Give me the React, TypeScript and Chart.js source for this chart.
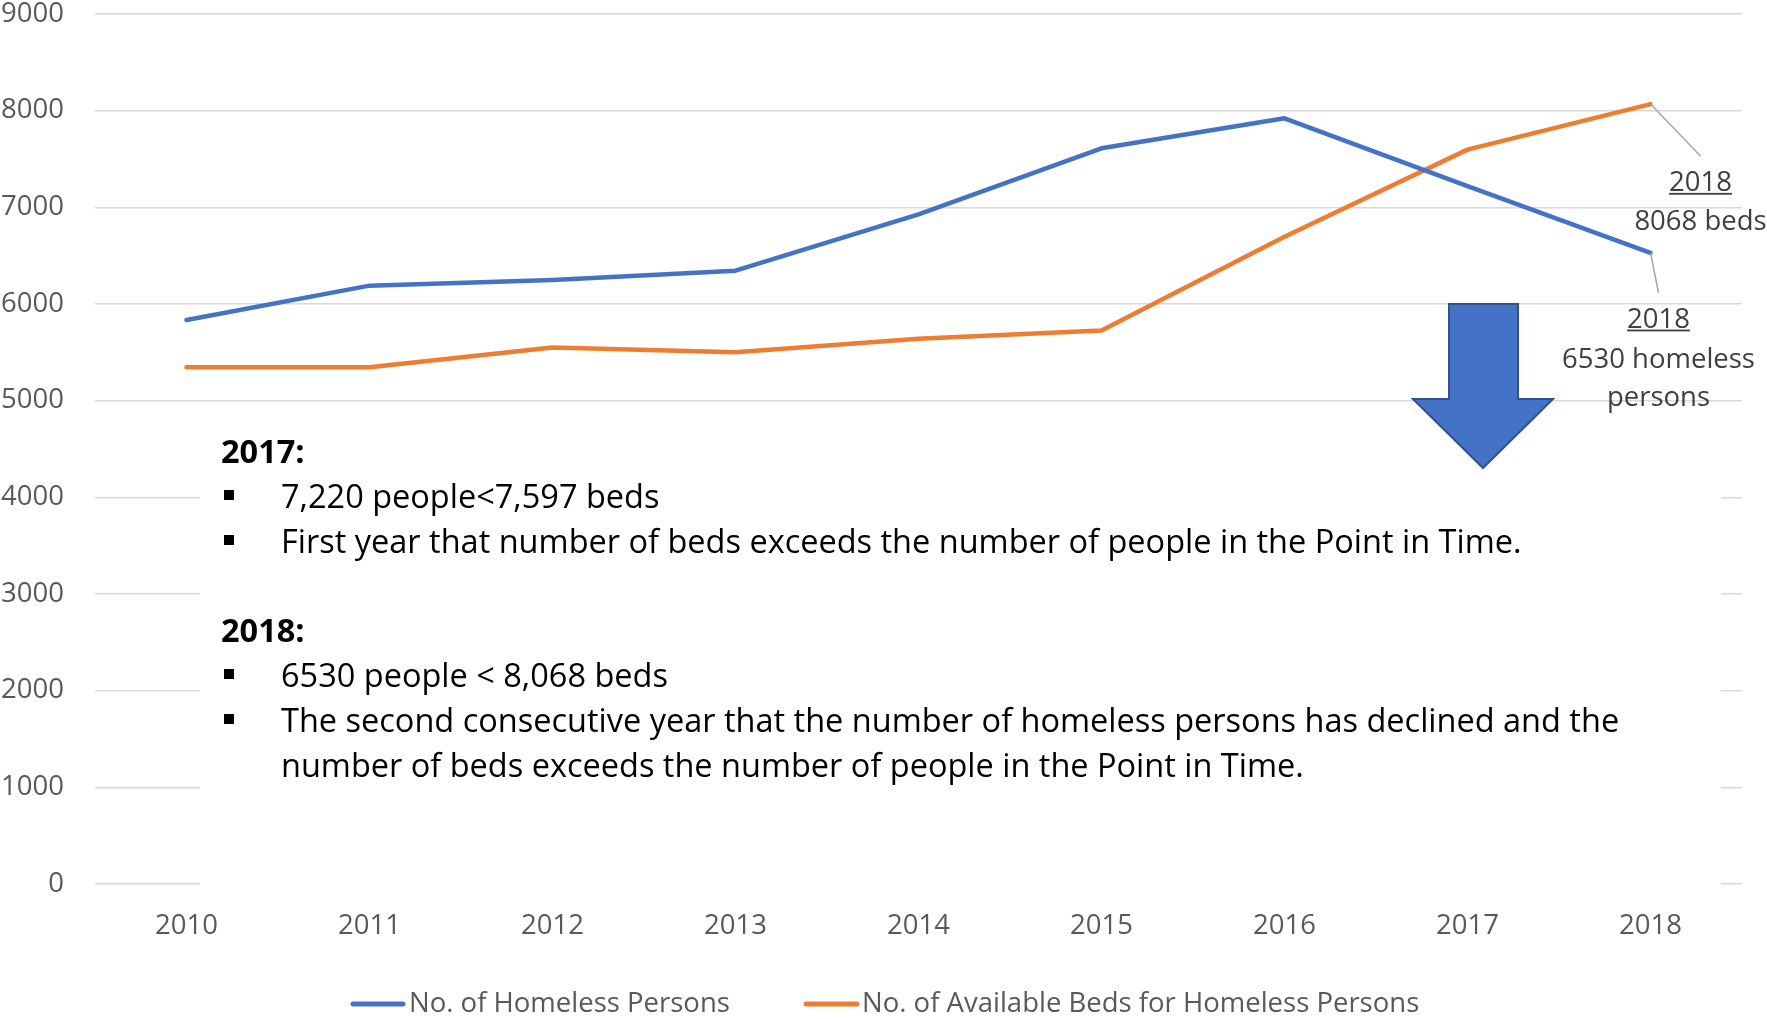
import { useEffect, useRef } from "react";
import { Chart, registerables } from "chart.js";

Chart.register(...registerables);

const years = ["2010", "2011", "2012", "2013", "2014", "2015", "2016", "2017", "2018"];
const homeless = [5834, 6190, 6248, 6345, 6928, 7611, 7921, 7220, 6530];
const beds = [5345, 5345, 5551, 5500, 5640, 5727, 6696, 7597, 8068];
const yMin = 0;
const yMax = 9000;
const yStep = 1000;
const seriesNames = ["No. of Homeless Persons", "No. of Available Beds for Homeless Persons"];
const seriesColors = ["#4472C4", "#ED7D31"];

const noteBlocks = [
  { heading: "2017:", bullets: [["7,220 people<7,597 beds"], ["First year that number of beds exceeds the number of people in the Point in Time."]] },
  {
    heading: "2018:",
    bullets: [
      ["6530 people < 8,068 beds"],
      [
        "The second consecutive year that the number of homeless persons has declined and the",
        "number of beds exceeds the number of people in the Point in Time.",
      ],
    ],
  },
];

const FONT = "'Open Sans', sans-serif";
const TEXT_GREY = "#595959";
const LABEL_GREY = "#404040";

const overlayPlugin = {
  id: "overlay",
  beforeDatasetsDraw(chart: any) {
    const ctx = chart.ctx as CanvasRenderingContext2D;
    ctx.save();
    ctx.fillStyle = "#ffffff";
    ctx.fillRect(200, 410, 1521, 488);
    ctx.restore();
  },
  afterDatasetsDraw(chart: any) {
    const ctx = chart.ctx as CanvasRenderingContext2D;
    const ys = chart.scales.y;
    ctx.save();

    // Down arrow
    const top = ys.getPixelForValue(6000);
    const headBase = 399;
    const tip = 468;
    ctx.beginPath();
    ctx.moveTo(1449, top);
    ctx.lineTo(1518, top);
    ctx.lineTo(1518, headBase);
    ctx.lineTo(1553, headBase);
    ctx.lineTo(1483, tip);
    ctx.lineTo(1413, headBase);
    ctx.lineTo(1449, headBase);
    ctx.closePath();
    ctx.fillStyle = "#4472C4";
    ctx.fill();
    ctx.strokeStyle = "#2F528F";
    ctx.lineWidth = 2;
    ctx.stroke();

    // Callouts on last points
    const last = years.length - 1;
    const pB = chart.getDatasetMeta(1).data[last];
    const pH = chart.getDatasetMeta(0).data[last];
    ctx.strokeStyle = "#A6A6A6";
    ctx.lineWidth = 1.5;
    ctx.beginPath();
    ctx.moveTo(pB.x, pB.y);
    ctx.lineTo(pB.x + 50, pB.y + 52);
    ctx.moveTo(pH.x, pH.y);
    ctx.lineTo(pH.x + 8, pH.y + 40);
    ctx.stroke();

    ctx.font = `27.5px ${FONT}`;
    ctx.fillStyle = LABEL_GREY;
    ctx.textAlign = "center";
    ctx.textBaseline = "alphabetic";
    const underlined = (t: string, x: number, y: number) => {
      ctx.fillText(t, x, y);
      const w = ctx.measureText(t).width;
      ctx.fillRect(x - w / 2, y + 1.8, w, 1.8);
    };
    const bx = pB.x + 50;
    underlined(years[last], bx, pB.y + 87);
    ctx.fillText(`${beds[last]} beds`, bx, pB.y + 126);
    const hx = pH.x + 8;
    underlined(years[last], hx, pH.y + 75);
    ctx.fillText(`${homeless[last]} homeless`, hx, pH.y + 115);
    ctx.fillText("persons", hx, pH.y + 153);

    // Note text
    ctx.textAlign = "left";
    ctx.fillStyle = "#000000";
    let y = 463;
    noteBlocks.forEach((b, bi) => {
      if (bi > 0) y += 44;
      ctx.font = `bold 32.5px ${FONT}`;
      ctx.fillText(b.heading, 221, y);
      y += 45;
      ctx.font = `32.5px ${FONT}`;
      b.bullets.forEach((lines) => {
        ctx.fillRect(224, y - 18, 10, 10);
        lines.forEach((ln) => {
          ctx.fillText(ln, 281, y);
          y += 45;
        });
      });
    });

    // Legend
    const legendItems = [
      { x0: 351, x1: 405, tx: 409 },
      { x0: 804, x1: 859, tx: 862 },
    ];
    ctx.font = `27.5px ${FONT}`;
    ctx.textBaseline = "middle";
    legendItems.forEach((it, i) => {
      ctx.strokeStyle = seriesColors[i];
      ctx.lineWidth = 5;
      ctx.lineCap = "round";
      ctx.beginPath();
      ctx.moveTo(it.x0 + 2, 1004);
      ctx.lineTo(it.x1 - 2, 1004);
      ctx.stroke();
      ctx.fillStyle = TEXT_GREY;
      ctx.fillText(seriesNames[i], it.tx, 1004.5);
    });
    ctx.restore();
  },
};

export default function App() {
  const ref = useRef<HTMLCanvasElement | null>(null);
  useEffect(() => {
    if (!ref.current) return;
    const chart = new Chart(ref.current, {
      type: "line",
      data: {
        labels: years,
        datasets: [
          {
            label: seriesNames[0],
            data: homeless,
            borderColor: seriesColors[0],
            backgroundColor: seriesColors[0],
            borderWidth: 4.5,
            pointRadius: 0,
            borderCapStyle: "round",
            borderJoinStyle: "round",
            tension: 0,
          },
          {
            label: seriesNames[1],
            data: beds,
            borderColor: seriesColors[1],
            backgroundColor: seriesColors[1],
            borderWidth: 4.5,
            pointRadius: 0,
            borderCapStyle: "round",
            borderJoinStyle: "round",
            tension: 0,
          },
        ],
      },
      options: {
        animation: false,
        responsive: true,
        maintainAspectRatio: false,
        layout: { padding: { top: 14, right: 25, left: 0, bottom: 0 } },
        plugins: { legend: { display: false }, tooltip: { enabled: false } },
        scales: {
          x: {
            offset: true,
            grid: { display: false, drawTicks: false },
            border: { display: false },
            ticks: { color: TEXT_GREY, font: { family: FONT, size: 27.5 }, padding: 26, maxRotation: 0 },
            afterFit: (s: any) => {
              s.height = 135;
              s.paddingLeft = 0;
              s.paddingRight = 0;
            },
          },
          y: {
            min: yMin,
            max: yMax,
            grid: { color: "#D9D9D9", lineWidth: 1.5, drawTicks: false },
            border: { display: false },
            ticks: {
              stepSize: yStep,
              color: TEXT_GREY,
              font: { family: FONT, size: 27.5 },
              padding: 31,
              callback: (v: any) => String(v),
            },
            afterFit: (s: any) => {
              s.width = 95;
              s.paddingTop = 0;
              s.paddingBottom = 0;
            },
          },
        },
      },
      plugins: [overlayPlugin],
    });
    return () => chart.destroy();
  }, []);
  return (
    <div style={{ position: "fixed", left: 0, top: 0, width: 1767, height: 1019, background: "#fff" }}>
      <canvas ref={ref} />
    </div>
  );
}
